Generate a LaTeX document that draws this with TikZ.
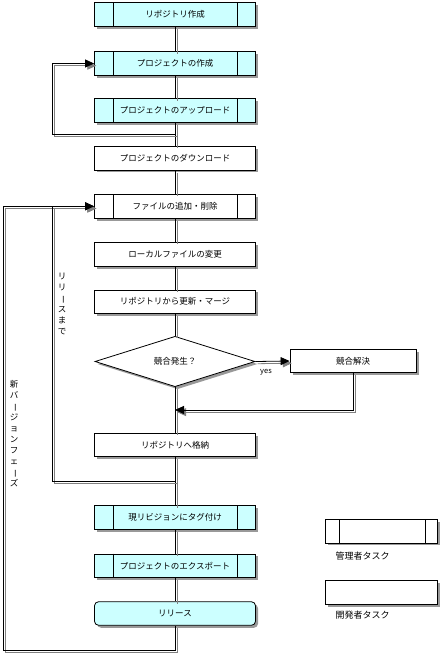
\documentclass[tikz,border=0pt]{standalone}
\usepackage{fontspec}
\setmainfont{Noto Sans CJK JP}
\usetikzlibrary{shapes.geometric,shadows,arrows.meta,calc}
\definecolor{taskcyan}{HTML}{CCFFFF}
\newcommand\vlong{\rotatebox[origin=c]{-90}{ー}}

\tikzset{
  task/.style={draw, fill=white, minimum width=161pt, minimum height=23.5pt,
    inner sep=0pt, font=\fontsize{8.5}{10}\selectfont,
    drop shadow={shadow xshift=2.5pt, shadow yshift=-2.5pt, fill=gray!80, opacity=1}},
  admin/.style={task, fill=taskcyan},
  legendbox/.style={task, minimum width=112pt},
  link/.style={draw=black, preaction={draw=gray, transform canvas={xshift=2.2pt,yshift=-2.2pt}}},
  tip/.style={-{Triangle[length=9pt,width=8pt]}},
  vlabel/.style={font=\fontsize{8.5}{11}\selectfont, align=center, inner sep=0pt}
}

\begin{document}
\begin{tikzpicture}[x=1pt,y=-1pt,line width=0.8pt]
  \useasboundingbox (0,0) rectangle (441,656);

  % main flow
  \node[admin] (n1) at (175,14.3) {リポジトリ作成};
  \node[admin] (n2) at (175,63.5) {プロジェクトの作成};
  \node[admin] (n3) at (175,110.5) {プロジェクトのアップロード};
  \node[task] (n4) at (175,158.2) {プロジェクトのダウンロード};
  \node[admin, fill=white] (n5) at (175,206.3) {ファイルの追加・削除};
  \node[task] (n6) at (175,254.3) {ローカルファイルの変更};
  \node[task] (n7) at (175,301.7) {リポジトリから更新・マージ};
  \node[task, shape=diamond, minimum width=160pt, minimum height=48.4pt] (dec) at (175,361.5) {競合発生？};
  \node[task, minimum width=126pt] (conf) at (353,361) {競合解決};
  \node[task] (n8) at (175,445) {リポジトリへ格納};
  \node[admin] (n9) at (175,517.5) {現リビジョンにタグ付け};
  \node[admin] (n10) at (175,565.7) {プロジェクトのエクスポート};
  \node[task, fill=taskcyan, rounded corners=4pt] (rel) at (175,613.5) {リリース};

  % inner bars of the admin tasks
  \foreach \b in {n1,n2,n3,n5,n9,n10}{
    \draw ([xshift=19.6pt]\b.north west) -- ([xshift=19.6pt]\b.south west);
    \draw ([xshift=-19pt]\b.north east) -- ([xshift=-19pt]\b.south east);
  }

  % connectors
  \draw[link] (n1) -- (n2);
  \draw[link] (n2) -- (n3);
  \draw[link] (n3) -- (n4);
  \draw[link] (n4) -- (n5);
  \draw[link] (n5) -- (n6);
  \draw[link] (n6) -- (n7);
  \draw[link] (n7) -- (dec);
  \draw[link] (dec) -- (n8);
  \draw[link] (n8) -- (n9);
  \draw[link] (n9) -- (n10);
  \draw[link] (n10) -- (rel);

  \coordinate (j1) at ($(n3.south)!.5!(n4.north)$);
  \coordinate (j2) at ($(n8.south)!.5!(n9.north)$);
  \coordinate (j3) at (rel.south |- 0,650);
  \coordinate (m1) at ($(dec.south)!.5!(n8.north)$);

  \draw[link, tip] (j1) -- (52.5,0 |- j1) |- (n2.west);
  \draw[link, tip] (rel.south) -- (j3) -- (3.5,0 |- j3) |- (n5.west);
  \draw[link, tip] (j2) -- (52.5,0 |- j2) |- (n5.west);
  \draw[link, tip] (dec.east) -- (conf.west);
  \draw[link, tip] (conf.south) |- (m1);

  \node[font=\fontsize{7.5}{9}\selectfont] (yes) at (266,372) {yes};

  % vertical labels
  \node[vlabel] (until) at (62,304) {リ\\リ\\\vlong\\ス\\ま\\で};
  \node[vlabel] (phase) at (14,434) {新\\バ\\\vlong\\ジ\\ョ\\ン\\フ\\ェ\\\vlong\\ズ};

  % legend
  \node[legendbox] (lg1) at (381.7,531.2) {};
  \draw ([xshift=13.6pt]lg1.north west) -- ([xshift=13.6pt]lg1.south west);
  \draw ([xshift=-13pt]lg1.north east) -- ([xshift=-13pt]lg1.south east);
  \node[anchor=west, font=\fontsize{9}{11}\selectfont] (lt1) at (332,556.5) {管理者タスク};
  \node[legendbox] (lg2) at (381.7,592.5) {};
  \node[anchor=west, font=\fontsize{9}{11}\selectfont] (lt2) at (332,615.5) {開発者タスク};
\end{tikzpicture}
\end{document}
